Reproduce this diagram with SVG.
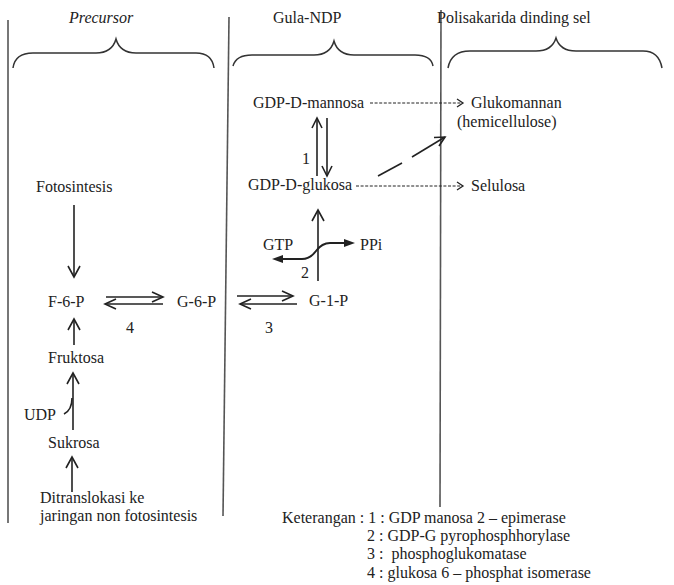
<svg xmlns="http://www.w3.org/2000/svg" width="674" height="585" viewBox="0 0 674 585">
<style>
text{font-family:"Liberation Serif","Times New Roman",serif;font-size:16px;fill:#222}
.it{font-style:italic}
.sep{stroke:#555;stroke-width:1.6;fill:none}
.brace{stroke:#333;stroke-width:1.5;fill:none}
.ln{stroke:#222;stroke-width:1.6;fill:none}
.hd{stroke:#222;stroke-width:1.6;fill:none;stroke-linejoin:miter}
.dash{stroke:#222;stroke-width:1;fill:none;stroke-dasharray:3 1.6}
.fill{fill:#222;stroke:none}
</style>
<g id="separators">
<line class="sep" x1="8" y1="20" x2="8" y2="523"/>
<line class="sep" x1="229" y1="17" x2="223" y2="516"/>
<line class="sep" x1="441" y1="10" x2="440" y2="507"/>
</g>
<g id="headers">
<text class="it" x="69" y="23">Precursor</text>
<path class="brace" d="M13,68 Q15,53 33,53 L96,53 Q112,53 116,39 Q120,53 136,53 L196,53 Q212,53 214,68"/>
<text x="273" y="23">Gula-NDP</text>
<path class="brace" d="M233,66 Q236,55 252,55 L314,55 Q330,55 334,41 Q338,55 354,55 L415,55 Q431,55 433,66"/>
<text x="437" y="23">Polisakarida dinding sel</text>
<path class="brace" d="M448,68 Q451,51 470,51 L536,51 Q552,51 556,38 Q560,51 576,51 L643,51 Q659,51 662,68"/>
</g>
<g id="node-fotosintesis"><text x="36" y="192">Fotosintesis</text></g>
<g id="node-f6p"><text x="48" y="307">F-6-P</text></g>
<g id="node-g6p"><text x="177" y="307">G-6-P</text></g>
<g id="node-g1p"><text x="309" y="306">G-1-P</text></g>
<g id="node-fruktosa"><text x="48" y="363">Fruktosa</text></g>
<g id="node-udp"><text x="24" y="420">UDP</text></g>
<g id="node-sukrosa"><text x="48" y="448">Sukrosa</text></g>
<g id="node-ditranslokasi"><text x="40" y="503">Ditranslokasi ke</text><text x="40" y="521">jaringan non fotosintesis</text></g>
<g id="node-gdp-mannosa"><text x="253" y="108">GDP-D-mannosa</text></g>
<g id="node-gdp-glukosa"><text x="248" y="190">GDP-D-glukosa</text></g>
<g id="node-gtp"><text x="263" y="250">GTP</text></g>
<g id="node-ppi"><text x="360" y="250">PPi</text></g>
<g id="node-glukomannan"><text x="471" y="108">Glukomannan</text><text x="457" y="127">(hemicellulose)</text></g>
<g id="node-selulosa"><text x="471" y="191">Selulosa</text></g>
<g id="labels">
<text x="302" y="164">1</text>
<text x="301" y="278">2</text>
<text x="265" y="333">3</text>
<text x="126" y="333">4</text>
</g>
<g id="connectors">
<line class="ln" x1="74" y1="205" x2="74" y2="277"/>
<path class="hd" d="M68,266 L74,277 L80,266"/>
<line class="ln" x1="74" y1="345" x2="74" y2="319"/>
<path class="hd" d="M68,330 L74,319 L80,330"/>
<line class="ln" x1="73" y1="430" x2="73" y2="373"/>
<path class="hd" d="M67,384 L73,373 L79,384"/>
<path class="ln" d="M64,414 Q72,410 72,398"/>
<line class="ln" x1="72" y1="492" x2="72" y2="457"/>
<path class="hd" d="M66,468 L72,457 L78,468"/>
<line class="ln" x1="106" y1="297" x2="163" y2="297"/>
<path class="hd" d="M152,292 L163,297 L152,302"/>
<line class="ln" x1="105" y1="304" x2="163" y2="304"/>
<path class="hd" d="M116,299 L105,304 L116,309"/>
<line class="ln" x1="237" y1="296" x2="293" y2="296"/>
<path class="hd" d="M282,291 L293,296 L282,301"/>
<line class="ln" x1="240" y1="304" x2="297" y2="304"/>
<path class="hd" d="M251,299 L240,304 L251,309"/>
<line class="ln" x1="318" y1="281" x2="318" y2="210"/>
<path class="hd" d="M312,221 L318,210 L324,221"/>
<path class="ln" d="M281,259 L302,259 Q310,259 316,251 Q322,243 330,243 L346,243" style="stroke-width:2"/>
<path class="fill" d="M272,259 L283,255 L283,263 Z"/>
<path class="fill" d="M355,243 L344,239 L344,247 Z"/>
<line class="ln" x1="317" y1="176" x2="317" y2="118"/>
<path class="hd" d="M312,128 L317,118 L322,128"/>
<line class="ln" x1="327" y1="118" x2="327" y2="176"/>
<path class="hd" d="M322,166 L327,176 L332,166"/>
<line class="dash" x1="370" y1="103" x2="462" y2="103"/>
<path class="hd" style="stroke-width:1.3" d="M457,99 L463,103 L457,107"/>
<line class="dash" x1="356" y1="186" x2="462" y2="186"/>
<path class="hd" style="stroke-width:1.3" d="M457,182 L463,186 L457,190"/>
<line class="ln" x1="378" y1="176" x2="402" y2="163"/>
<line class="ln" x1="412" y1="157" x2="445" y2="137"/>
<path class="hd" d="M434,137.5 L445,137 L439,146"/>
</g>
<g id="legend">
<text x="282" y="523">Keterangan : 1 : GDP manosa 2 – epimerase</text>
<text x="367" y="541">2 : GDP-G pyrophosphhorylase</text>
<text x="367" y="559">3 :&#160; phosphoglukomatase</text>
<text x="367" y="578">4 : glukosa 6 – phosphat isomerase</text>
</g>
</svg>
